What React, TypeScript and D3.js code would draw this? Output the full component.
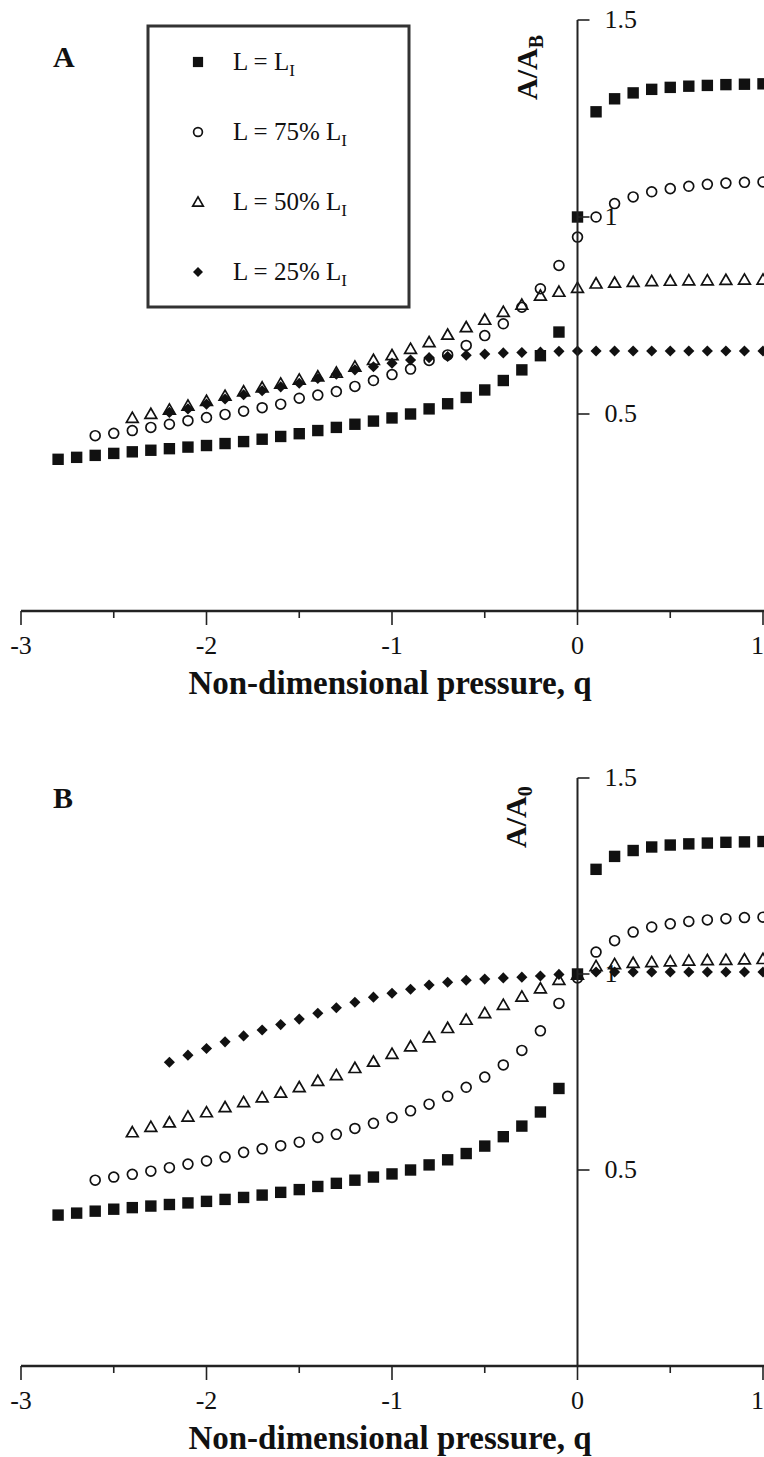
import React from "react";
import * as d3 from "d3";

// Non-dimensional pressure steps shared by every series
const pressure = [
  -2.8, -2.7, -2.6, -2.5, -2.4, -2.3, -2.2, -2.1, -2.0, -1.9,
  -1.8, -1.7, -1.6, -1.5, -1.4, -1.3, -1.2, -1.1, -1.0, -0.9,
  -0.8, -0.7, -0.6, -0.5, -0.4, -0.3, -0.2, -0.1, 0.0, 0.1,
  0.2, 0.3, 0.4, 0.5, 0.6, 0.7, 0.8, 0.9, 1.0,
];

// L = L_I (same curve in both normalisations)
const fullLength = [
  0.385, 0.39, 0.395, 0.4, 0.404, 0.408, 0.412, 0.416, 0.42, 0.425,
  0.43, 0.436, 0.443, 0.45, 0.458, 0.466, 0.474, 0.482, 0.49, 0.5,
  0.513, 0.526, 0.542, 0.561, 0.585, 0.612, 0.648, 0.708, 1.0, 1.267,
  1.3, 1.315, 1.324, 1.329, 1.332, 1.334, 1.336, 1.337, 1.338,
];

// Panel A: A / A_B
const a75 = [
  null, null, 0.445, 0.451, 0.458, 0.466, 0.474, 0.483, 0.491, 0.499,
  0.507, 0.516, 0.525, 0.54, 0.548, 0.557, 0.57, 0.585, 0.6, 0.614,
  0.636, 0.65, 0.674, 0.699, 0.729, 0.771, 0.818, 0.877, 0.949, 1.0,
  1.034, 1.051, 1.064, 1.072, 1.078, 1.083, 1.086, 1.088, 1.089,
];
const a50 = [
  null, null, null, null, 0.49, 0.5, 0.511, 0.521, 0.533, 0.546,
  0.557, 0.567, 0.577, 0.587, 0.595, 0.605, 0.62, 0.637, 0.649, 0.665,
  0.682, 0.701, 0.72, 0.739, 0.759, 0.777, 0.8, 0.81, 0.82, 0.831,
  0.833, 0.835, 0.837, 0.838, 0.839, 0.839, 0.84, 0.841, 0.841,
];
const a25 = [
  null, null, null, null, null, null, 0.504, 0.513, 0.525, 0.538,
  0.549, 0.559, 0.569, 0.578, 0.59, 0.601, 0.612, 0.62, 0.629, 0.637,
  0.643, 0.646, 0.649, 0.652, 0.655, 0.656, 0.657, 0.659, 0.66, 0.66,
  0.66, 0.66, 0.66, 0.66, 0.66, 0.66, 0.66, 0.66, 0.66,
];

// Panel B: A / A_0
const b75 = [
  null, null, 0.474, 0.482, 0.489, 0.497, 0.506, 0.515, 0.523, 0.533,
  0.545, 0.554, 0.562, 0.571, 0.583, 0.591, 0.606, 0.619, 0.634, 0.651,
  0.668, 0.688, 0.711, 0.737, 0.768, 0.805, 0.855, 0.925, 0.99, 1.056,
  1.085, 1.107, 1.12, 1.128, 1.134, 1.138, 1.141, 1.144, 1.145,
];
const b50 = [
  null, null, null, null, 0.596, 0.61, 0.621, 0.636, 0.647, 0.66,
  0.673, 0.685, 0.697, 0.711, 0.727, 0.742, 0.76, 0.776, 0.796, 0.815,
  0.838, 0.862, 0.883, 0.9, 0.921, 0.942, 0.963, 0.985, 0.998, 1.02,
  1.025, 1.028, 1.03, 1.032, 1.034, 1.035, 1.036, 1.037, 1.038,
];
const b25 = [
  null, null, null, null, null, null, 0.775, 0.793, 0.81, 0.827,
  0.842, 0.857, 0.871, 0.885, 0.9, 0.914, 0.928, 0.941, 0.951, 0.961,
  0.972, 0.979, 0.984, 0.987, 0.99, 0.992, 0.995, 0.999, 1.0, 1.005,
  1.005, 1.005, 1.005, 1.005, 1.005, 1.005, 1.005, 1.005, 1.005,
];

const legendLabels = ["L = L", "L = 75% L", "L = 50% L", "L = 25% L"];
const xTicks = [-3, -2.5, -2, -1.5, -1, -0.5, 0, 0.5, 1];
const yTicks = [0.5, 1, 1.5];
const yTickLabels = ["0.5", "1", "1.5"];

type Shape = "square" | "circle" | "triangle" | "diamond";
const shapes: Shape[] = ["square", "circle", "triangle", "diamond"];

const FONT = "'Liberation Serif', 'Times New Roman', serif";
const INK = "#111";

const symbolPath = (shape: Shape, scale = 1) => {
  if (shape === "square") return d3.symbol().type(d3.symbolSquare).size(130 * scale)()!;
  if (shape === "circle") return d3.symbol().type(d3.symbolCircle).size(76 * scale)()!;
  if (shape === "triangle") return d3.symbol().type(d3.symbolTriangle).size(60 * scale)()!;
  return d3.symbol().type(d3.symbolSquare).size(62 * scale)()!;
};

const Marker = ({ shape, x, y, scale = 1 }: { shape: Shape; x: number; y: number; scale?: number }) => {
  const open = shape === "circle" || shape === "triangle";
  const rot = shape === "diamond" ? " rotate(45)" : "";
  const dy = shape === "triangle" ? 1 : 0;
  return (
    <path
      d={symbolPath(shape, scale)}
      transform={`translate(${x},${y + dy})${rot}`}
      fill={open ? "none" : INK}
      stroke={open ? INK : "none"}
      strokeWidth={open ? 1.7 : 0}
    />
  );
};

const xScale = d3.scaleLinear().domain([-3, 1]).range([21, 763]);

type PanelProps = {
  label: string;
  sub: string;
  yRange: [number, number];
  series: (number | null)[][];
  labelPos: [number, number];
  titlePos: [number, number];
  legend?: boolean;
};

const Panel = ({ label, sub, yRange, series, labelPos, titlePos, legend }: PanelProps) => {
  const y = d3.scaleLinear().domain([0, 1.5]).range(yRange);
  const x0 = xScale(0);
  const yAxis = y(0);
  return (
    <g fontFamily={FONT}>
      {/* data */}
      {series.map((vals, si) =>
        vals.map((v, i) =>
          v == null ? null : (
            <Marker key={`${si}-${i}`} shape={shapes[si]} x={xScale(pressure[i])} y={y(v)} />
          )
        )
      )}

      {/* x axis */}
      <line x1={xScale(-3)} x2={764} y1={yAxis} y2={yAxis} stroke="#222" strokeWidth={2.5} />
      {xTicks.map((t) => {
        const major = Number.isInteger(t);
        const atEdge = t === 1;
        return (
          <g key={t}>
            <line
              x1={xScale(t)}
              x2={xScale(t)}
              y1={yAxis}
              y2={yAxis + (major ? 14 : 7)}
              stroke="#222"
              strokeWidth={1.6}
            />
            {major && (
              <text
                x={atEdge ? 764 : xScale(t)}
                y={yAxis + 43}
                fontSize={26}
                textAnchor={atEdge ? "end" : "middle"}
                fill={INK}
              >
                {String(t)}
              </text>
            )}
          </g>
        );
      })}
      <text x={390} y={yAxis + 83} fontSize={33} fontWeight="bold" textAnchor="middle" fill={INK}>
        Non-dimensional pressure, q
      </text>

      {/* y axis */}
      <line x1={x0} x2={x0} y1={yAxis} y2={y(1.5)} stroke="#222" strokeWidth={2} />
      {yTicks.map((t, i) => (
        <g key={t}>
          <line x1={x0} x2={x0 + 12} y1={y(t)} y2={y(t)} stroke="#222" strokeWidth={1.6} />
          <text x={x0 + 27} y={y(t) + 8} fontSize={26} fill={INK}>
            {yTickLabels[i]}
          </text>
        </g>
      ))}
      <text
        transform={`translate(${titlePos[0]},${titlePos[1]}) rotate(-90)`}
        fontSize={30}
        fontWeight="bold"
        fill={INK}
      >
        A/A
        <tspan fontSize={20} dy={6}>
          {sub}
        </tspan>
      </text>

      {/* panel letter */}
      <text x={labelPos[0]} y={labelPos[1]} fontSize={30} fontWeight="bold" fill={INK}>
        {label}
      </text>

      {legend && (
        <g>
          <rect x={148} y={26} width={261} height={281} fill="white" stroke="#333" strokeWidth={3} />
          {legendLabels.map((lab, i) => {
            const ry = 62 + i * 70;
            return (
              <g key={lab}>
                <Marker shape={shapes[i]} x={198} y={ry} scale={0.8} />
                <text x={233} y={ry + 8} fontSize={25} fill={INK}>
                  {lab}
                  <tspan fontSize={17} dy={6}>
                    I
                  </tspan>
                </text>
              </g>
            );
          })}
        </g>
      )}
    </g>
  );
};

export default function App() {
  return (
    <svg
      width={764}
      height={1457}
      viewBox="0 0 764 1457"
      style={{ position: "absolute", left: 0, top: 0, display: "block", background: "white" }}
    >
      <rect width={764} height={1457} fill="white" />
      <Panel
        label="A"
        sub="B"
        yRange={[611, 20]}
        series={[fullLength, a75, a50, a25]}
        labelPos={[53, 67]}
        titlePos={[537, 100]}
        legend
      />
      <Panel
        label="B"
        sub="0"
        yRange={[1366, 778]}
        series={[fullLength, b75, b50, b25]}
        labelPos={[53, 808]}
        titlePos={[526, 848]}
      />
    </svg>
  );
}
